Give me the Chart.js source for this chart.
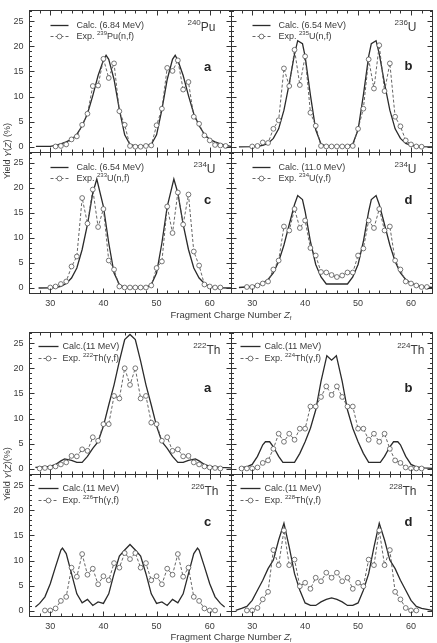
<!DOCTYPE html>
<html>
<head>
<meta charset="utf-8">
<script src="https://cdn.jsdelivr.net/npm/chart.js@4.4.0/dist/chart.umd.min.js"></script>
<style>
  html, body { margin: 0; padding: 0; background: #fff; }
  #wrap { position: relative; width: 437px; height: 643px; overflow: hidden; }
  #wrap canvas { position: absolute; left: 0; top: 0; }
</style>
</head>
<body>
<div id="wrap">
  <canvas id="pa" width="437" height="643"></canvas>
  <canvas id="pb" width="437" height="643"></canvas>
  <canvas id="pc" width="437" height="643"></canvas>
  <canvas id="pd" width="437" height="643"></canvas>
  <canvas id="qa" width="437" height="643"></canvas>
  <canvas id="qb" width="437" height="643"></canvas>
  <canvas id="qc" width="437" height="643"></canvas>
  <canvas id="qd" width="437" height="643"></canvas>
</div>
<script>
// axis ranges and tick labels
var zMin = 26, zMax = 64, yMin = -1, yMax = 27.2;
var zTickLabels = [30, 40, 50, 60];
var yTickLabels = [0, 5, 10, 15, 20, 25];

// ---- upper figure: actinides ----
var calcPu240Z = [27.3,30,31,32,33,34,35,36,37,38,39,40,40.5,41,42,43,44,45,46,47,48,49,50,51,52,53,53.5,54,55,56,57,58,59,60,61,62,63,64];
var calcPu240Y = [0.1,0.1,0.3,0.6,1.0,1.5,2.5,4.2,6.6,10.2,14.2,17.2,18.2,17.4,13.4,7.4,2.4,0.5,0.2,0.2,0.2,0.5,2.4,7.4,13.4,17.4,18.2,17.2,14.2,10.2,6.6,4.2,2.5,1.5,1.0,0.6,0.3,0.1];
var expPu239Z = [31,32,33,34,35,36,37,38,39,40,41,42,43,44,45,46,47,48,49,50,51,52,53,54,55,56,57,58,59,60,61,62,63];
var expPu239Y = [0.1,0.2,0.5,1.5,2.1,4.4,6.6,12.1,12.2,17.5,13.7,16.6,7.1,4.4,0.2,0.05,0.05,0.2,0.3,4.3,7.6,15.7,15.1,17.2,11.4,12.9,6.0,4.6,2.3,1.3,0.4,0.3,0.2];

var calcU236Z = [27.5,30,31,32,33,34,35,36,37,38,38.6,39.5,40,41,42,43,44,48,49,50,51,52,52.5,53.4,54,55,56,57,58,59,60,61,62,64];
var calcU236Y = [0,0.05,0.1,0.3,0.7,1.7,3.6,7.3,12.6,18.5,21.1,20.5,18,10.3,3.4,0.6,0.1,0.1,0.6,3.4,10.3,18,20.5,21.1,18.5,12.6,7.3,3.6,1.7,0.7,0.3,0.1,0.05,0];
var expU235Z = [30,31,32,33,34,35,36,37,38,39,40,41,42,43,44,45,46,47,48,49,50,51,52,53,54,55,56,57,58,59,60,61,62];
var expU235Y = [0.1,0.2,0.9,0.8,3.6,5.3,15.6,12.1,19.3,12.3,18,6.8,4.2,0.2,0.1,0.1,0.1,0.1,0.1,0.2,3.6,7.6,17.4,11.6,20.2,11.1,16.6,6.0,4.1,1.3,0.5,0.1,0.05];

var calcU234nZ = [27.8,30,31,32,33,34,35,36,37,38,38.75,40,41,42,43,44,48,49,50,51,52,53.25,54,55,56,57,58,59,60,61,62,64];
var calcU234nY = [0,0.05,0.1,0.3,0.9,2.0,4.0,7.7,12.7,19,21.8,16.3,9,3,0.7,0.1,0.1,0.7,3,9,16.3,21.8,19,12.7,7.7,4.0,2.0,0.9,0.3,0.1,0.05,0];
var expU233Z = [30,31,32,33,34,35,36,37,38,39,40,41,42,43,44,45,46,47,48,49,50,51,52,53,54,55,56,57,58,59,60,61,62];
var expU233Y = [0.1,0.3,0.8,1.3,4.3,6.3,18,12.9,19.7,12.2,15.8,5.5,3.7,0.3,0.1,0.1,0.1,0.1,0.1,0.5,4,5.3,16.3,11,19.1,12.7,18.7,7.3,4.5,0.7,0.3,0.1,0.1];

var calcU234gZ = [27.5,30,31,32,33,34,35,36,37,38,38.6,39.5,40,41,42,43,44,48,49,50,51,52,52.5,53.4,54,55,56,57,58,59,60,61,62,64];
var calcU234gY = [0.1,0.3,0.6,1.0,1.7,3.0,5.3,8.6,12.7,16.7,18.5,17.7,15.3,9.3,4.7,2.2,0.8,0.8,2.2,4.7,9.3,15.3,17.7,18.5,16.7,12.7,8.6,5.3,3.0,1.7,1.0,0.6,0.3,0.1];
var expU234Z = [29,30,31,32,33,34,35,36,37,38,39,40,41,42,43,44,45,46,47,48,49,50,51,52,53,54,55,56,57,58,59,60,61,62,63];
var expU234Y = [0.2,0.2,0.5,0.9,1.3,3.7,5.5,12.3,11.5,15.8,12,13.5,8,6.5,3.2,3.1,2.6,2.2,2.5,3.1,3.1,6.5,7.9,13.5,12,15.8,11.5,12.3,5.5,3.7,1.3,0.9,0.5,0.2,0.2];

// ---- lower figure: thorium isotopes ----
var calcTh222Z = [27.2,30,31,32,32.7,34,35,36,37,38,39,40,41,42,43,44,45,46,47,48,49,50,51,52,53,54,55,56,57.3,58,59,60,62,64];
var calcTh222Y = [0.3,0.5,0.9,1.6,2.0,1.7,1.3,1.3,2.5,4.1,5.4,8.5,12.7,16.7,21.4,25.7,26.7,25.7,21.4,16.7,12.7,8.5,5.4,4.1,2.5,1.3,1.3,1.7,2.0,1.6,0.9,0.5,0.3,0.2];
var expTh222Z = [28,29,30,31,32,33,34,35,36,37,38,39,40,41,42,43,44,45,46,47,48,49,50,51,52,53,54,55,56,57,58,59,60,61,62];
var expTh222Y = [0.1,0.2,0.3,0.5,0.9,1.3,2.6,2.5,3.9,3.6,6.3,5.6,8.9,8.9,14.5,14,20,16.7,20,14,14.5,9.2,8.9,5.6,6.3,3.6,3.9,2.5,2.6,1.3,0.9,0.5,0.3,0.2,0.1];

var calcTh224Z = [27.5,29,30,31,32,32.5,33.3,34,35,35.8,38,39,40,41,42,43,44.1,45,45.9,47,48,49,50,51,52,54.2,55,56,56.7,57.5,58,59,60,61,62.5,64];
var calcTh224Y = [0.2,0.4,0.9,2.5,4.8,5.4,5.4,4.4,2.5,1.3,1.3,3.1,5.4,8.1,11.7,17.4,22.5,21.6,22.5,17.4,11.7,8.1,5.4,3.1,1.3,1.3,2.5,4.4,5.4,5.4,4.8,2.5,0.9,0.4,0.2,0.1];
var expTh224Z = [28,29,30,31,32,33,34,35,36,37,38,39,40,41,42,43,44,45,46,47,48,49,50,51,52,53,54,55,56,57,58,59,60,61,62];
var expTh224Y = [0.1,0.1,0.1,0.3,1.2,1.7,4.0,7.0,5.4,7.0,5.8,8.0,8.0,12.4,12.4,14.3,16.4,14.7,16.4,14.3,12.4,12.4,8.0,8.0,5.8,7.0,5.4,7.0,4.0,1.7,1.2,0.3,0.1,0.1,0.1];

var calcTh226Z = [27.2,28,29,30,31,32,32.3,33,34,35,36,37,38,39,40,41,42,43,44,45,46,47,48,49,50,51,52,53,54,55,56,57,57.7,58,59,60,61,62,62.8];
var calcTh226Y = [0.8,1.5,2.8,5.4,8.8,12.1,12.5,11.4,7.4,3.4,1.6,2.3,1.1,1.8,1.5,3.4,7.4,10.9,12.1,13.2,12.1,10.9,7.4,3.4,1.5,1.8,1.1,2.3,1.6,3.4,7.4,11.4,12.5,12.1,8.8,5.4,2.8,1.5,0.8];
var expTh226Z = [29,30,31,32,33,34,35,36,37,38,39,40,41,42,43,44,45,46,47,48,49,50,51,52,53,54,55,56,57,58,59,60,61];
var expTh226Y = [0.1,0.1,0.5,2,2.8,8.6,6.8,11.3,7.2,8.4,5.3,6.9,6.1,9.5,8.6,11.5,10.3,11.5,8.6,9.5,6.1,6.9,5.3,8.4,7.2,11.3,6.8,8.6,2.8,2,0.5,0.1,0.1];

var calcTh228Z = [26.9,28,29,30,31,32,33,34,35,36,37,38,39,40,41,42,43,44,45,46,47,48,49,50,51,52,53,54,55,56,57,58,59,60,61,62,64];
var calcTh228Y = [0.1,0.5,0.9,2.1,4.1,6.1,8.4,10.1,14.1,17.4,12.7,7.4,4.1,1.6,1.1,1.1,1.8,2.3,2.6,2.3,1.8,1.1,1.1,1.6,4.1,7.4,12.7,17.4,14.1,10.1,8.4,6.1,4.1,2.1,0.9,0.5,0.1];
var expTh228Z = [29,30,31,32,33,34,35,36,37,38,39,40,41,42,43,44,45,46,47,48,49,50,51,52,53,54,55,56,57,58,59,60,61];
var expTh228Y = [0.1,0.1,0.6,2.3,3.8,12.1,9.1,16,9.1,10.2,4.9,5.6,4.4,6.6,5.9,7.6,6.6,7.6,5.9,6.6,4.4,5.6,4.9,10.2,9.1,16,9.1,12.1,3.8,2.3,0.6,0.1,0.1];

var W = 437, H = 643;
var FONT = '"Liberation Sans", Arial, Helvetica, sans-serif';
var INK = '#333';
var legTop = { x0: 21, x1: 39, tx: 47, y1: 15, y2: 26 };
var legBot = { x0: 9, x1: 29, tx: 33, y1: 14, y2: 26 };

var panels = [
  { id: 'pa', rect: [29, 10, 231, 152], cz: calcPu240Z, cy: calcPu240Y, ez: expPu239Z, ey: expPu239Y,
    calc: 'Calc. (6.84 MeV)', expMass: '239', expRest: 'Pu(n,f)', isoMass: '240', isoName: 'Pu',
    letter: 'a', leg: legTop, isoDx: 16, isoDy: 17, letDy: 57, yLab: true, xLab: false },
  { id: 'pb', rect: [231, 10, 433, 152], cz: calcU236Z, cy: calcU236Y, ez: expU235Z, ey: expU235Y,
    calc: 'Calc. (6.54 MeV)', expMass: '235', expRest: 'U(n,f)', isoMass: '236', isoName: 'U',
    letter: 'b', leg: legTop, isoDx: 16, isoDy: 17, letDy: 56, yLab: false, xLab: false },
  { id: 'pc', rect: [29, 152, 231, 293], cz: calcU234nZ, cy: calcU234nY, ez: expU233Z, ey: expU233Y,
    calc: 'Calc. (6.54 MeV)', expMass: '233', expRest: 'U(n,f)', isoMass: '234', isoName: 'U',
    letter: 'c', leg: legTop, isoDx: 16, isoDy: 17, letDy: 48, yLab: true, xLab: true,
    titles: { xy: 315, ymid: 151, ytext: 'Yield ', yparen: ' (%)' } },
  { id: 'pd', rect: [231, 152, 433, 293], cz: calcU234gZ, cy: calcU234gY, ez: expU234Z, ey: expU234Y,
    calc: 'Calc. (11.0 MeV)', expMass: '234', expRest: 'U(\u03b3,f)', isoMass: '234', isoName: 'U',
    letter: 'd', leg: legTop, isoDx: 16, isoDy: 17, letDy: 48, yLab: false, xLab: true },
  { id: 'qa', rect: [29, 332, 231, 474], cz: calcTh222Z, cy: calcTh222Y, ez: expTh222Z, ey: expTh222Y,
    calc: 'Calc.(11 MeV)', expMass: '222', expRest: 'Th(\u03b3,f)', isoMass: '222', isoName: 'Th',
    letter: 'a', leg: legBot, isoDx: 11, isoDy: 18, letDy: 56, yLab: true, xLab: false },
  { id: 'qb', rect: [231, 332, 433, 474], cz: calcTh224Z, cy: calcTh224Y, ez: expTh224Z, ey: expTh224Y,
    calc: 'Calc.(11 MeV)', expMass: '224', expRest: 'Th(\u03b3,f)', isoMass: '224', isoName: 'Th',
    letter: 'b', leg: legBot, isoDx: 8, isoDy: 18, letDy: 56, yLab: false, xLab: false },
  { id: 'qc', rect: [29, 474, 231, 616], cz: calcTh226Z, cy: calcTh226Y, ez: expTh226Z, ey: expTh226Y,
    calc: 'Calc.(11 MeV)', expMass: '226', expRest: 'Th(\u03b3,f)', isoMass: '226', isoName: 'Th',
    letter: 'c', leg: legBot, isoDx: 13, isoDy: 17, letDy: 48, yLab: true, xLab: true,
    titles: { xy: 637, ymid: 474, ytext: 'Yield ', yparen: '(%)' } },
  { id: 'qd', rect: [231, 474, 433, 616], cz: calcTh228Z, cy: calcTh228Y, ez: expTh228Z, ey: expTh228Y,
    calc: 'Calc.(11 MeV)', expMass: '228', expRest: 'Th(\u03b3,f)', isoMass: '228', isoName: 'Th',
    letter: 'd', leg: legBot, isoDx: 16, isoDy: 17, letDy: 48, yLab: false, xLab: true }
];

function toPoints(zs, ys) {
  return zs.map(function (z, i) { return { x: z, y: ys[i] }; });
}

function segFont(s, size) {
  var sz = (s.sup || s.sub) ? Math.round(size * 0.65) : size;
  return (s.b ? 'bold ' : '') + (s.i ? 'italic ' : '') + sz + 'px ' + FONT;
}

// draws a run of text pieces (plain / italic / sup / sub) on one line
function drawRich(ctx, segs, x, y, size, align) {
  var w = 0;
  segs.forEach(function (s) { ctx.font = segFont(s, size); s.w = ctx.measureText(s.t).width; w += s.w; });
  var cx = align === 'right' ? x - w : (align === 'center' ? x - w / 2 : x);
  ctx.textAlign = 'left';
  ctx.textBaseline = 'middle';
  segs.forEach(function (s) {
    ctx.font = segFont(s, size);
    var dy = s.sup ? -size * 0.38 : (s.sub ? size * 0.3 : 0);
    ctx.fillText(s.t, cx, y + dy);
    cx += s.w;
  });
}

function line(ctx, x0, y0, x1, y1) {
  ctx.beginPath(); ctx.moveTo(x0, y0); ctx.lineTo(x1, y1); ctx.stroke();
}

function makeFrame(p) {
  return {
    id: 'frame',
    afterDraw: function (chart) {
      var ctx = chart.ctx, xs = chart.scales.x, ys = chart.scales.y, a = chart.chartArea;
      var L = Math.round(a.left) + 0.5, R = Math.round(a.right) + 0.5;
      var T = Math.round(a.top) + 0.5, B = Math.round(a.bottom) + 0.5;
      ctx.save();
      ctx.strokeStyle = INK;
      ctx.lineWidth = 1;
      ctx.strokeRect(L, T, R - L, B - T);

      // inward ticks on all four sides
      for (var z = 28; z <= 62; z += 2) {
        var px = Math.round(xs.getPixelForValue(z)) + 0.5;
        var len = z % 10 === 0 ? 5 : 3;
        line(ctx, px, B, px, B - len);
        line(ctx, px, T, px, T + len);
      }
      for (var v = 0; v <= 27; v++) {
        var py = Math.round(ys.getPixelForValue(v)) + 0.5;
        var ln = v % 5 === 0 ? 5 : 2.5;
        line(ctx, L, py, L + ln, py);
        line(ctx, R, py, R - ln, py);
      }

      ctx.fillStyle = '#3a3a3a';
      if (p.yLab) {
        ctx.font = '9px ' + FONT;
        ctx.textAlign = 'right';
        ctx.textBaseline = 'middle';
        yTickLabels.forEach(function (t) { ctx.fillText(String(t), L - 6, ys.getPixelForValue(t)); });
      }
      if (p.xLab) {
        ctx.font = '9px ' + FONT;
        ctx.textAlign = 'center';
        ctx.textBaseline = 'middle';
        zTickLabels.forEach(function (t) { ctx.fillText(String(t), xs.getPixelForValue(t), B + 10.5); });
      }

      // legend
      var lg = p.leg;
      var y1 = T + lg.y1, y2 = T + lg.y2;
      ctx.strokeStyle = '#2b2b2b';
      ctx.lineWidth = 1.3;
      line(ctx, L + lg.x0, y1, L + lg.x1, y1);
      ctx.strokeStyle = '#555';
      ctx.lineWidth = 0.9;
      ctx.setLineDash([3, 2]);
      line(ctx, L + lg.x0, y2, L + lg.x1, y2);
      ctx.setLineDash([]);
      ctx.beginPath();
      ctx.arc((L + lg.x0 + L + lg.x1) / 2, y2, 2.4, 0, Math.PI * 2);
      ctx.fillStyle = '#fff';
      ctx.fill();
      ctx.lineWidth = 0.8;
      ctx.stroke();
      ctx.fillStyle = '#3a3a3a';
      drawRich(ctx, [{ t: p.calc }], L + lg.tx, y1, 9, 'left');
      drawRich(ctx, [{ t: 'Exp. ' }, { t: p.expMass, sup: true }, { t: p.expRest }], L + lg.tx, y2, 9, 'left');

      // nucleus and panel letter
      drawRich(ctx, [{ t: p.isoMass, sup: true }, { t: p.isoName }], R - p.isoDx, T + p.isoDy, 12, 'right');
      ctx.font = 'bold 13px ' + FONT;
      ctx.textAlign = 'center';
      ctx.textBaseline = 'middle';
      ctx.fillStyle = '#222';
      ctx.fillText(p.letter, R - 24, T + p.letDy);

      // shared axis titles for the group
      if (p.titles) {
        ctx.fillStyle = '#3a3a3a';
        drawRich(ctx, [{ t: 'Fragment Charge Number ' }, { t: 'Z', i: true }, { t: 'f', sub: true }], 231, p.titles.xy, 9.5, 'center');
        ctx.save();
        ctx.translate(8, p.titles.ymid);
        ctx.rotate(-Math.PI / 2);
        drawRich(ctx, [{ t: p.titles.ytext }, { t: 'Y' , i: true }, { t: '(' }, { t: 'Z', i: true }, { t: ')' + p.titles.yparen }], 0, 0, 9, 'center');
        ctx.restore();
      }
      ctx.restore();
    }
  };
}

panels.forEach(function (p) {
  var r = p.rect;
  new Chart(document.getElementById(p.id), {
    type: 'line',
    data: {
      datasets: [
        { label: 'Exp.', data: toPoints(p.ez, p.ey), borderColor: '#555', borderWidth: 0.9, borderDash: [3, 2],
          pointRadius: 2.4, pointBackgroundColor: '#fff', pointBorderColor: '#555', pointBorderWidth: 0.8, tension: 0 },
        { label: 'Calc.', data: toPoints(p.cz, p.cy), borderColor: '#2b2b2b', borderWidth: 1.3, pointRadius: 0, tension: 0 }
      ]
    },
    options: {
      responsive: false,
      animation: false,
      events: [],
      devicePixelRatio: 1,
      layout: { padding: { left: r[0], top: r[1], right: W - r[2], bottom: H - r[3] } },
      scales: {
        x: { type: 'linear', min: zMin, max: zMax, display: false },
        y: { type: 'linear', min: yMin, max: yMax, display: false }
      },
      plugins: { legend: { display: false }, tooltip: { enabled: false } }
    },
    plugins: [makeFrame(p)]
  });
});
</script>
</body>
</html>
